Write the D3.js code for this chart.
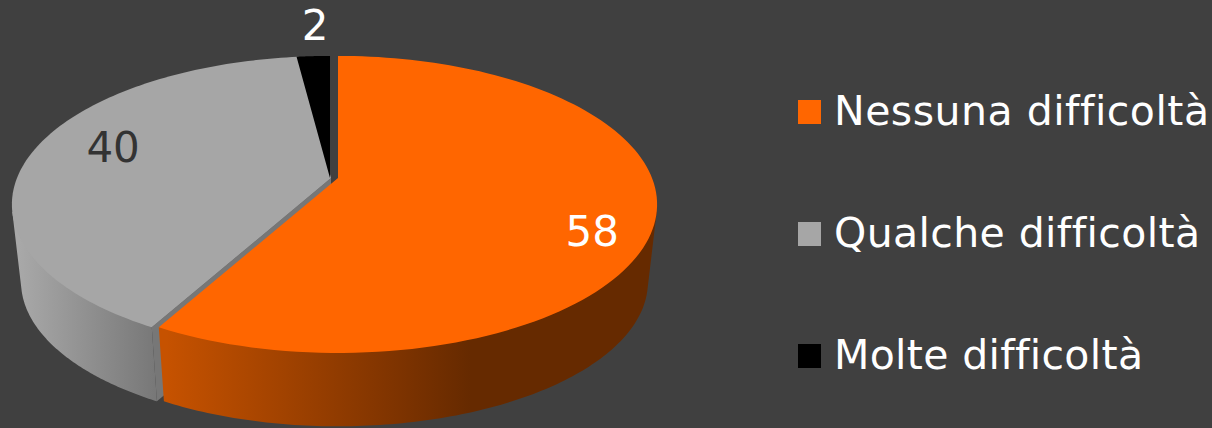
<!DOCTYPE html>
<html lang="it">
<head>
<meta charset="utf-8">
<script src="https://cdn.jsdelivr.net/npm/d3@7/dist/d3.min.js"></script>
<style>
  html, body { margin: 0; padding: 0; background: #404040; }
  svg { display: block; }
  text { font-family: "DejaVu Sans", sans-serif; font-variant-ligatures: none; }
</style>
</head>
<body>
<svg id="chart" width="1212" height="428"></svg>
<script>
// Survey shares, in percent
const categories = ["Nessuna difficoltà", "Qualche difficoltà", "Molte difficoltà"];
const values = [58, 40, 2];
const topColors = ["#ff6600", "#a6a6a6", "#000000"];
const valueColors = ["#ffffff", "#333333", "#ffffff"];
const legendTextWidths = [375, 366, 309];

const width = 1212, height = 428;
const svg = d3.select("#chart").attr("viewBox", [0, 0, width, height]);

// Perspective disc: unit circle mapped by a homography
const perspective = 0.178;
const topDisc = { cx: 338, cy: 178, a: 314, b: 143.8 };
const baseDisc = { cx: 338, cy: 256, a: 305, b: 140 };
const explodeX = [0, -7, -8];          // pulled-out slices shift left
const rad = d => d * Math.PI / 180;

function project(disc, angle, r, shift) {
  const u = Math.sin(angle) * r, v = -Math.cos(angle) * r;
  const w = 1 - perspective * v;
  return [disc.cx + shift + disc.a * u / w, disc.cy + disc.b * v / w];
}
const angleRange = (from, to) => d3.range(0, 121).map(i => from + (to - from) * i / 120);
const line = d3.line();

const arcs = d3.pie().sort(null)(values);

const defs = svg.append("defs");
function sideGradient(id, x1, x2, stops) {
  const g = defs.append("linearGradient").attr("id", id)
    .attr("gradientUnits", "userSpaceOnUse")
    .attr("x1", x1).attr("x2", x2).attr("y1", 0).attr("y2", 0);
  stops.forEach(([o, c]) => g.append("stop").attr("offset", o).attr("stop-color", c));
}
sideGradient("wall-orange", 166, 470, [[0, "#c65200"], [0.77, "#7d3300"], [1, "#662a00"]]);
sideGradient("wall-grey", 20, 155, [[0, "#a8a8a8"], [1, "#787878"]]);

const layer = svg.append("g");

// Outer wall of a slice, between two rim angles; its upper edge tucks under
// the top face so no seam shows along the rim
function wall(i, from, to, fill) {
  const s = explodeX[i];
  const upper = angleRange(from, to);
  const pts = upper.map((t, k) => project(topDisc, t, k === 0 || k === upper.length - 1 ? 1 : 0.985, s))
    .concat(angleRange(to, from).map(t => project(baseDisc, t, 1, s)));
  layer.append("path").attr("d", line(pts) + "Z").attr("fill", fill);
}
// Flat cut face along one radial edge
function cutFace(i, angle, fill) {
  const s = explodeX[i];
  const pts = [project(topDisc, angle, 0, s), project(topDisc, angle, 1, s),
               project(baseDisc, angle, 1, s), project(baseDisc, angle, 0, s)];
  layer.append("path").attr("d", line(pts) + "Z").attr("fill", fill);
}
function topFace(i) {
  const d = arcs[i], s = explodeX[i];
  const pts = [project(topDisc, 0, 0, s)].concat(
    angleRange(d.startAngle, d.endAngle).map(t => project(topDisc, t, 1, s)));
  layer.append("path").attr("d", line(pts) + "Z").attr("fill", topColors[i]);
}

// Back to front: grey slice, black sliver, then the orange slice over them
wall(1, arcs[1].startAngle, rad(257), "url(#wall-grey)");
cutFace(1, arcs[1].startAngle, "#777777");
topFace(1);
topFace(2);
wall(0, rad(103), arcs[0].endAngle, "url(#wall-orange)");
topFace(0);

// Value labels sit near the mid-angle of their slice
const labelPlace = [
  { r: 0.8, dx: 2, dy: 38 },
  { r: 0.72, dx: -1, dy: 3 },
  { r: 1.3, dx: 6, dy: 14 }
];
arcs.forEach((d, i) => {
  const mid = (d.startAngle + d.endAngle) / 2;
  const [x, y] = project(topDisc, mid, labelPlace[i].r, explodeX[i]);
  svg.append("text")
    .attr("x", x + labelPlace[i].dx).attr("y", y + labelPlace[i].dy)
    .attr("text-anchor", "middle")
    .attr("font-size", 42)
    .attr("fill", valueColors[i])
    .text(d.data);
});

// Legend
const legendY = d3.scalePoint().domain(categories).range([125, 369]);
const legend = svg.append("g").selectAll("g").data(categories).join("g");
legend.append("rect")
  .attr("x", 798).attr("y", d => legendY(d) - 25)
  .attr("width", 23).attr("height", 24)
  .attr("fill", (d, i) => topColors[i]);
legend.append("text")
  .attr("x", 834).attr("y", d => legendY(d))
  .attr("font-size", 41)
  .attr("fill", "#ffffff")
  .attr("textLength", (d, i) => legendTextWidths[i])
  .attr("lengthAdjust", "spacing")
  .text(d => d);
</script>
</body>
</html>
